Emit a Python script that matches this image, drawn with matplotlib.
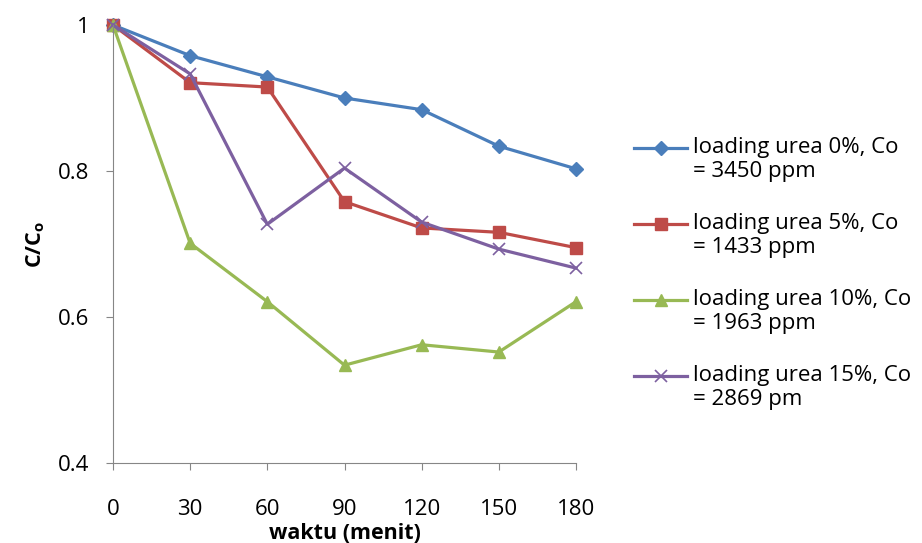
import numpy as np
import matplotlib.pyplot as plt
from matplotlib.lines import Line2D
from matplotlib.legend_handler import HandlerLine2D
from matplotlib.ticker import FuncFormatter

plt.rcParams['font.family'] = ['Open Sans', 'DejaVu Sans']

# waktu (menit)
waktu = [0, 30, 60, 90, 120, 150, 180]

# C/Co for each loading urea
urea_0 = [1.0, 0.958, 0.929, 0.900, 0.884, 0.834, 0.803]
urea_5 = [1.0, 0.921, 0.915, 0.758, 0.722, 0.716, 0.695]
urea_10 = [1.0, 0.701, 0.621, 0.534, 0.562, 0.552, 0.621]
urea_15 = [1.0, 0.933, 0.727, 0.804, 0.730, 0.693, 0.667]

labels = ['loading urea 0%, Co\n= 3450 ppm',
          'loading urea 5%, Co\n= 1433 ppm',
          'loading urea 10%, Co\n= 1963 ppm',
          'loading urea 15%, Co\n= 2869 pm']

fs = 16


# legend handle sits next to the first text line, like Excel does
class FirstLineHandler(HandlerLine2D):
    def create_artists(self, legend, orig_handle, xdescent, ydescent,
                       width, height, fontsize, trans):
        arts = super().create_artists(legend, orig_handle, xdescent, ydescent,
                                      width, height, fontsize, trans)
        for a in arts:
            a.set_ydata(np.asarray(a.get_ydata()) + 0.55 * fontsize)
        return arts


fig = plt.figure(figsize=(9.22, 5.43), dpi=100)
ax = fig.add_axes([113 / 922, 80 / 543, 463 / 922, 438 / 543])

ax.plot(waktu, urea_0, color='#4A7EBB', lw=2.3, marker='D', ms=7, label=labels[0])
ax.plot(waktu, urea_5, color='#BE4B48', lw=2.3, marker='s', ms=8, label=labels[1])
ax.plot(waktu, urea_10, color='#98B954', lw=2.3, marker='^', ms=8, label=labels[2])
ax.plot(waktu, urea_15, color='#7D60A0', lw=2.3, marker='x', ms=8, mew=1.2, label=labels[3])

ax.set_xlim(0, 180)
ax.set_ylim(0.4, 1.0)
ax.set_xticks(waktu)
ax.set_yticks([0.4, 0.6, 0.8, 1.0])
ax.yaxis.set_major_formatter(FuncFormatter(lambda v, p: f'{v:g}'))
for s in ['top', 'right']:
    ax.spines[s].set_visible(False)
for s in ['left', 'bottom']:
    ax.spines[s].set_color('#868686')
ax.tick_params(direction='out', length=5, color='#868686', labelsize=fs)
ax.tick_params(axis='y', pad=12)
ax.tick_params(axis='x', pad=21)
for ln in ax.lines:
    ln.set_clip_on(False)

ax.set_xlabel('waktu (menit)', fontsize=15.5, fontweight='bold', labelpad=2)
ax.set_ylabel('C/C$_\\mathregular{o}$', fontsize=15.5, fontweight='bold', labelpad=8)

leg = ax.legend(loc='upper left', bbox_to_anchor=(623 / 922, 1 - 126 / 543),
                bbox_transform=fig.transFigure, frameon=False, fontsize=fs,
                handlelength=2.4, handletextpad=0.25,
                labelspacing=1.4, borderpad=0,
                handler_map={Line2D: FirstLineHandler()})
for t in leg.get_texts():
    t.set_linespacing(1.18)

fig.savefig('out.png', dpi=100)
